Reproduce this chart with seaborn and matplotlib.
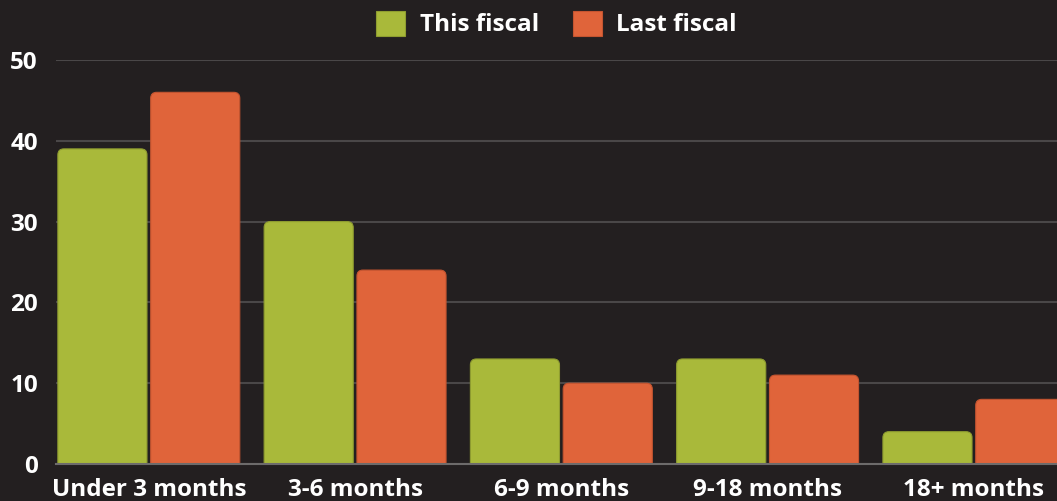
import pandas as pd
import matplotlib
matplotlib.use('Agg')
import matplotlib.pyplot as plt
import seaborn as sns
from matplotlib.patches import FancyBboxPatch, Patch

# data
categories = ['Under 3 months', '3-6 months', '6-9 months', '9-18 months', '18+ months']
this_fiscal = [39, 30, 13, 13, 4]
last_fiscal = [46, 24, 10, 11, 8]
series = ['This fiscal', 'Last fiscal']
colors = ['#a9b93a', '#e0643a']
edges = ['#8f9d30', '#c45430']

df = pd.DataFrame({
    'period': categories * 2,
    'count': this_fiscal + last_fiscal,
    'series': [series[0]] * len(categories) + [series[1]] * len(categories),
})

bg = '#231f20'
sns.set_style('dark')
plt.rcParams['font.family'] = ['Open Sans', 'DejaVu Sans']
plt.rcParams['font.weight'] = 'bold'

W, H = 1057, 501
fig = plt.figure(figsize=(W / 100, H / 100), dpi=100, facecolor=bg)
ax = fig.add_axes([56 / W, 37 / H, 1 - 56 / W, 404 / H])
ax.set_facecolor(bg)

sns.barplot(data=df, x='period', y='count', hue='series', palette=colors,
            width=0.9, gap=0.04, saturation=1, legend=False, ax=ax)

ax.set_xlim(-0.45, 4.403)
ax.set_ylim(0, 50)
ax.set_yticks(range(0, 51, 10))

# round the top corners of the bars
px_x = ax.get_window_extent().width / (4.403 + 0.45)
px_y = ax.get_window_extent().height / 50
asp = px_x / px_y
r = 6 / px_x
for i, cont in enumerate(ax.containers):
    for bar in cont:
        x, w, h = bar.get_x(), bar.get_width(), bar.get_height()
        p = FancyBboxPatch((x, -2), w, h + 2,
                           boxstyle=f'round,pad=0,rounding_size={r}',
                           mutation_aspect=asp, fc=colors[i], ec=edges[i],
                           lw=0.8, zorder=2)
        bar.remove()
        ax.add_patch(p)

ax.yaxis.grid(True, color='#4a4748', lw=1.5)
ax.xaxis.grid(False)
ax.set_axisbelow(True)
for s in ['top', 'right', 'left']:
    ax.spines[s].set_visible(False)
ax.spines['bottom'].set_color('#6d6b6b')
ax.spines['bottom'].set_linewidth(1.5)
ax.spines['bottom'].set_zorder(3)

ax.set_xlabel('')
ax.set_ylabel('')
ax.tick_params(axis='both', length=0, labelcolor='white', labelsize=17.5)
ax.tick_params(axis='y', pad=13)
ax.tick_params(axis='x', pad=10)

handles = [Patch(fc=c, ec=e, lw=0.8) for c, e in zip(colors, edges)]
fig.legend(handles, series, loc='center', ncol=2, frameon=False,
           bbox_to_anchor=(556.5 / W, 1 - 24 / H), fontsize=17.5,
           labelcolor='white', handlelength=1.2, handleheight=1.2,
           handletextpad=0.58, columnspacing=1.4)

fig.savefig('out.png', dpi=100, facecolor=bg)
